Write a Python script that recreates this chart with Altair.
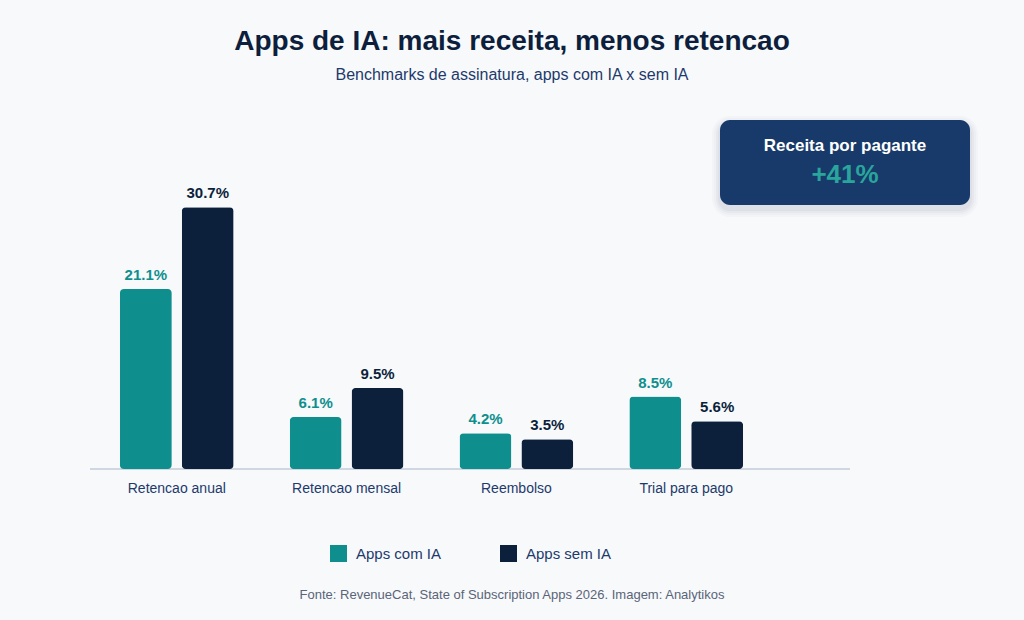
import altair as alt
import pandas as pd

categorias = ["Retencao anual", "Retencao mensal", "Reembolso", "Trial para pago"]
grupos = ["Apps com IA", "Apps sem IA"]
com_ia = [21.1, 6.1, 4.2, 8.5]
sem_ia = [30.7, 9.5, 3.5, 5.6]
cores = ["#0e8f8e", "#0c1f3b"]

titulo = "Apps de IA: mais receita, menos retencao"
subtitulo = "Benchmarks de assinatura, apps com IA x sem IA"
fonte = "Fonte: RevenueCat, State of Subscription Apps 2026. Imagem: Analytikos"
destaque_titulo = "Receita por pagante"
destaque_valor = "+41%"

FONT = "Liberation Sans, Arial, Helvetica, sans-serif"

rows = []
for c, a, b in zip(categorias, com_ia, sem_ia):
    rows.append({"categoria": c, "grupo": grupos[0], "valor": a})
    rows.append({"categoria": c, "grupo": grupos[1], "valor": b})
df = pd.DataFrame(rows)

x = alt.X("categoria:N", sort=categorias, title=None,
          scale=alt.Scale(range=[0, 683], paddingInner=0.33, paddingOuter=0.176),
          axis=alt.Axis(labelAngle=0, ticks=False, domain=False, labelFont=FONT, labelFontSize=14,
                        labelColor="#1e3a6b", labelPadding=12))
xo = alt.XOffset("grupo:N", sort=grupos, scale=alt.Scale(paddingInner=0.161, paddingOuter=0))
y = alt.Y("valor:Q", scale=alt.Scale(domain=[0, 40]), axis=None)
color = alt.Color("grupo:N", sort=grupos, scale=alt.Scale(domain=grupos, range=cores),
                  legend=alt.Legend(title=None, orient="none", legendX=240, legendY=417,
                                    direction="horizontal", symbolType="square",
                                    symbolSize=289, symbolStrokeWidth=0, symbolOpacity=1,
                                    labelFont=FONT, labelFontSize=15, labelColor="#1e3a6b",
                                    labelOffset=9, columnPadding=58))

one = pd.DataFrame({"k": [0]})
anno = alt.Chart(one)

baseline = anno.mark_rule(color="#c5cbd8", strokeWidth=1.5).encode(
    x=alt.value(0), x2=alt.value(760), y=alt.value(341))

base = alt.Chart(df)
bars = base.mark_bar(cornerRadius=4).encode(x=x, xOffset=xo, y=y, color=color)
labels = base.transform_calculate(
    rotulo="format(datum.valor, '.1f') + '%'"
).mark_text(baseline="bottom", dy=-6, font=FONT, fontSize=15, fontWeight="bold").encode(
    x=x, xOffset=xo, y=y, text="rotulo:N", color=alt.Color("grupo:N", sort=grupos, legend=None,
                                                            scale=alt.Scale(domain=grupos, range=cores)))

shadows = []
for i, op in enumerate([0.025, 0.025, 0.03, 0.035]):
    g = 8 - 2 * i
    shadows.append(anno.mark_rect(color="#1b2a4a", opacity=op, cornerRadius=10 + g).encode(
        x=alt.value(630 - g), x2=alt.value(880 + g), y=alt.value(-8 - g + 4), y2=alt.value(77 + g + 4)))

box = anno.mark_rect(color="#173a6b", cornerRadius=10).encode(
    x=alt.value(630), x2=alt.value(880), y=alt.value(-8), y2=alt.value(77))
box_t = anno.mark_text(text=destaque_titulo, font=FONT, fontSize=17, fontWeight="bold",
                       color="#ffffff", baseline="middle").encode(x=alt.value(755), y=alt.value(18))
box_v = anno.mark_text(text=destaque_valor, font=FONT, fontSize=26, fontWeight="bold",
                       color="#2aa59b", baseline="middle").encode(x=alt.value(755), y=alt.value(47))

t1 = anno.mark_text(text=titulo, font=FONT, fontSize=28, fontWeight="bold", color="#0d1f3c",
                    baseline="middle").encode(x=alt.value(422), y=alt.value(-86))
t2 = anno.mark_text(text=subtitulo, font=FONT, fontSize=16, color="#1e3a6b",
                    baseline="middle").encode(x=alt.value(422), y=alt.value(-53))
t3 = anno.mark_text(text=fonte, font=FONT, fontSize=13, color="#5a6478",
                    baseline="middle").encode(x=alt.value(422), y=alt.value(467))

chart = alt.layer(baseline, bars, labels, *shadows, box, box_t, box_v, t1, t2, t3).resolve_scale(
    color="independent"
).properties(
    width=760, height=341, background="#f7f9fb",
    autosize=alt.AutoSizeParams(type="none"),
    padding={"left": 90, "top": 128, "right": 174, "bottom": 151},
).configure_view(stroke=None)

chart.save("out.html", embed_options={"renderer": "svg", "actions": False})
